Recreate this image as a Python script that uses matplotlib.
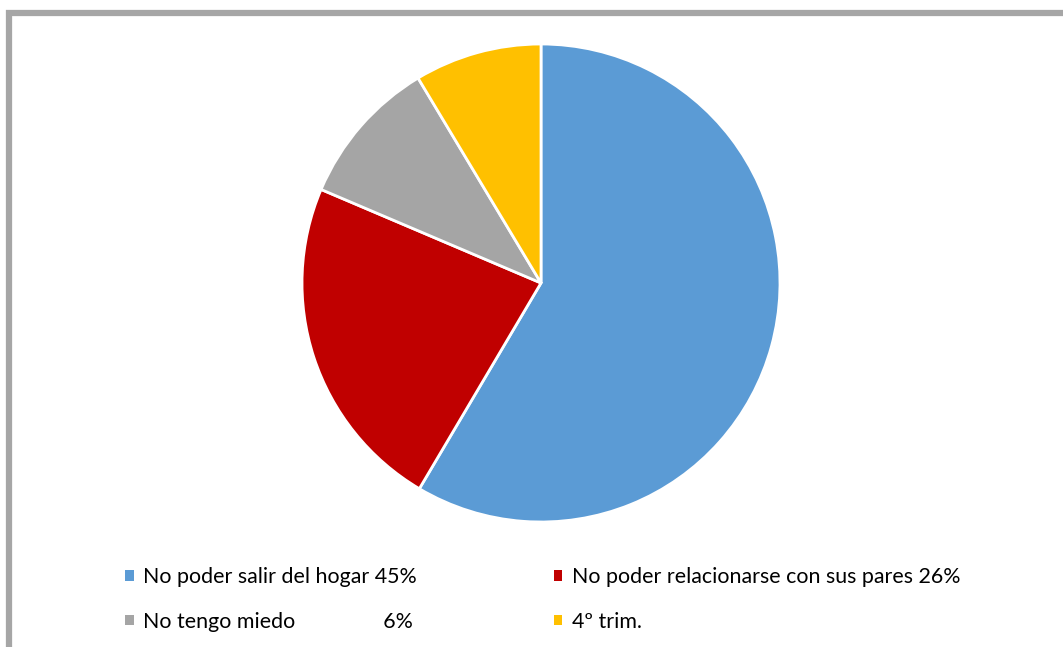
import matplotlib
matplotlib.use("Agg")
import matplotlib.pyplot as plt
from matplotlib.patches import Rectangle

labels = ["No poder salir del hogar 45%",
          "No poder relacionarse con sus pares 26%",
          "No tengo miedo                6%",
          "4º trim."]
values = [58.5, 22.9, 10.0, 8.6]
colors = ["#5B9BD5", "#C00000", "#A5A5A5", "#FFC000"]

W, H = 1063, 647
fig = plt.figure(figsize=(W/100, H/100), dpi=100)
fig.patch.set_facecolor("white")

cx, cy, r = 541, 283, 239
ax = fig.add_axes([(cx - r)/W, (H - cy - r)/H, 2*r/W, 2*r/H])
wedges, _ = ax.pie(values, colors=colors, startangle=90, counterclock=False,
                   radius=1, wedgeprops=dict(edgecolor="white", linewidth=2.0))
ax.set_xlim(-1, 1)
ax.set_ylim(-1, 1)
ax.set_aspect("equal")
ax.axis("off")

# frame (partially cropped on right and bottom)
fig.patches.append(Rectangle((8.5/W, -0.1), 1.2, (H - 13)/H + 0.1,
                             transform=fig.transFigure, fill=False,
                             edgecolor="#A6A6A6", linewidth=4.5))

order = [0, 2, 1, 3]
leg = fig.legend([wedges[i] for i in order], [labels[i] for i in order],
                 ncol=2, loc="upper left", bbox_to_anchor=(125/W, 1 - 567/H),
                 frameon=False, prop=dict(family="Lato", size=15.4),
                 handlelength=0.4, handleheight=0.4, handletextpad=0.45,
                 columnspacing=6.4, labelspacing=1.15, borderaxespad=0, borderpad=0)
for h in leg.legend_handles:
    h.set_edgecolor("none")

fig.savefig("out.png", dpi=100)
